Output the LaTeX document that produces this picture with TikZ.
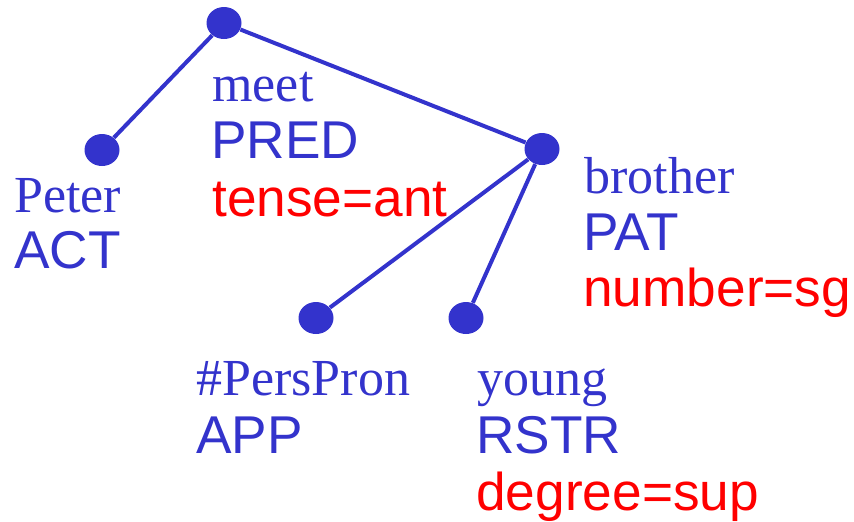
\documentclass[tikz,border=0pt]{standalone}
\usepackage{fontspec}
\setmainfont{Liberation Serif}
\setsansfont{Liberation Sans}
\usetikzlibrary{shapes.geometric}
\definecolor{treeblue}{RGB}{51,51,204}
\definecolor{attrred}{RGB}{255,0,0}
\tikzset{
  dot/.style={ellipse, fill=treeblue, draw=none, inner sep=0pt,
    minimum width=17.5pt, minimum height=16pt},
  edge/.style={draw=treeblue, line width=2pt},
  lemma/.style={anchor=base west, inner sep=0pt, text=treeblue,
    font=\rmfamily\fontsize{26}{30}\selectfont},
  functor/.style={anchor=base west, inner sep=0pt, text=treeblue,
    font=\sffamily\fontsize{26.6}{30}\selectfont},
  gram/.style={anchor=base west, inner sep=0pt, text=attrred,
    font=\sffamily\fontsize{26.6}{30}\selectfont},
}
\begin{document}
\begin{tikzpicture}[x=0.5pt, y=-0.5pt]
\useasboundingbox (0,0) rectangle (854,521);

% tree nodes
\node[dot] (meet) at (224,23) {};
\node[dot] (peter) at (102,150) {};
\node[dot] (brother) at (542,149) {};
\node[dot] (pers) at (316,318) {};
\node[dot] (young) at (466,318) {};

% edges
\draw[edge] (meet) -- (peter);
\draw[edge] (meet) -- (brother);
\draw[edge] (brother) -- (pers);
\draw[edge] (brother) -- (young);

% labels of meet
\node[lemma] (meetL) at (212,101) {meet};
\node[functor] (meetF) at (211,158) {PRED};
\node[gram] (meetG) at (212,216) {tense=ant};

% labels of Peter
\node[lemma] (peterL) at (14,212) {Peter};
\node[functor] (peterF) at (14,268) {ACT};

% labels of brother
\node[lemma] (brotherL) at (584,193) {brother};
\node[functor] (brotherF) at (583,250) {PAT};
\node[gram] (brotherG) at (583,306) {number=sg};

% labels of #PersPron
\node[lemma] (persL) at (196,395) {\#PersPron};
\node[functor] (persF) at (196,453) {APP};

% labels of young
\node[lemma] (youngL) at (477,395) {young};
\node[functor] (youngF) at (476,453) {RSTR};
\node[gram] (youngG) at (476,510) {degree=sup};
\end{tikzpicture}
\end{document}
